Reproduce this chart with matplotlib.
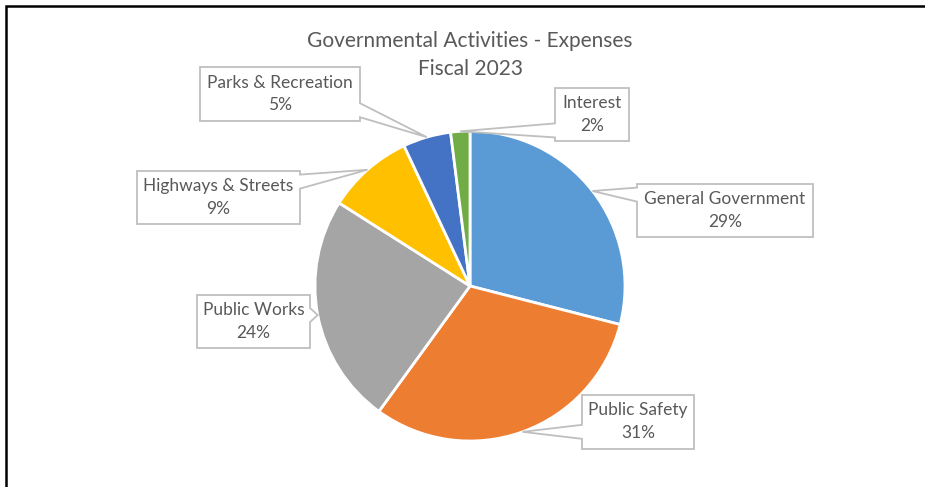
import numpy as np
import matplotlib
matplotlib.use("Agg")
import matplotlib.pyplot as plt
from matplotlib.patches import Polygon

categories = ["General Government", "Public Safety", "Public Works",
              "Highways & Streets", "Parks & Recreation", "Interest"]
shares = [29, 31, 24, 9, 5, 2]
colors = ["#5B9BD5", "#ED7D31", "#A5A5A5", "#FFC000", "#4472C4", "#70AD47"]

# callout boxes in pixel coords (x0, y0, x1, y1), y measured from top
boxes = [(637, 184, 813, 237), (582, 395, 694, 449), (197, 295, 310, 348),
         (137, 171, 300, 224), (200, 67, 360, 121), (555, 88, 629, 141)]

W, H = 925, 487
CX, CY, R = 470, 286, 155
GRAY = "#595959"
plt.rcParams["font.family"] = ["Lato", "DejaVu Sans"]

fig = plt.figure(figsize=(W / 100, H / 100), dpi=100)
ax = fig.add_axes([0, 0, 1, 1])
wedges, _ = ax.pie(shares, colors=colors, startangle=90, counterclock=False,
                   center=(CX, H - CY), radius=R,
                   wedgeprops=dict(edgecolor="white", linewidth=2))
ax.set_xlim(0, W)
ax.set_ylim(0, H)
ax.axis("off")


def callout(box, px, py):
    x0, y0, x1, y1 = box
    h = y1 - y0
    w = x1 - x0
    hw = 7
    if px > x1:
        yc = np.clip(py, y0 + 0.2 * h, y1 - 0.2 * h)
        pts = [(x0, y0), (x1, y0), (x1, yc - hw), (px, py), (x1, yc + hw), (x1, y1), (x0, y1)]
    elif px < x0:
        yc = np.clip(py, y0 + 0.2 * h, y1 - 0.2 * h)
        pts = [(x0, y0), (x1, y0), (x1, y1), (x0, y1), (x0, yc + hw), (px, py), (x0, yc - hw)]
    elif py < y0:
        xc = np.clip(px, x0 + 0.2 * w, x1 - 0.2 * w)
        pts = [(x0, y0), (xc - hw, y0), (px, py), (xc + hw, y0), (x1, y0), (x1, y1), (x0, y1)]
    else:
        xc = np.clip(px, x0 + 0.2 * w, x1 - 0.2 * w)
        pts = [(x0, y0), (x1, y0), (x1, y1), (xc + hw, y1), (px, py), (xc - hw, y1), (x0, y1)]
    pts = [(x, H - y) for x, y in pts]
    ax.add_patch(Polygon(pts, closed=True, facecolor="white", edgecolor="#BFBFBF",
                         linewidth=1.3, zorder=3))


for w, name, val, box in zip(wedges, categories, shares, boxes):
    mid = np.deg2rad((w.theta1 + w.theta2) / 2)
    px = CX + R * np.cos(mid)
    py = CY - R * np.sin(mid)
    callout(box, px, py)
    bx = (box[0] + box[2]) / 2
    by = (box[1] + box[3]) / 2
    ax.text(bx, H - (by - 11.5), name, ha="center", va="center",
            fontsize=12.5, color=GRAY, zorder=4)
    ax.text(bx, H - (by + 11.5), f"{val}%", ha="center", va="center",
            fontsize=12.5, color=GRAY, zorder=4)

ax.text(CX, H - 41, "Governmental Activities - Expenses", ha="center", va="center",
        fontsize=15, color=GRAY)
ax.text(CX, H - 69, "Fiscal 2023", ha="center", va="center",
        fontsize=15, color=GRAY)

# outer frame (left and top edges only)
ax.plot([6, 6, W], [0, H - 6, H - 6], color="black", linewidth=1.8,
        solid_joinstyle="miter", clip_on=False)

fig.savefig("out.png", dpi=100)
